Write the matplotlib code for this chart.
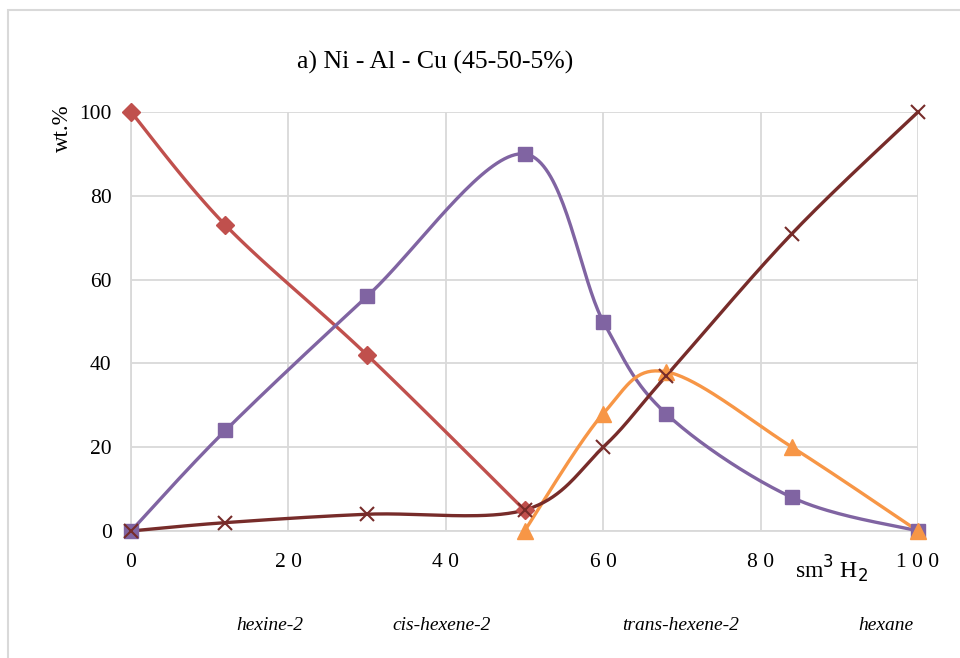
import matplotlib.pyplot as plt
import numpy as np
from matplotlib.patches import Rectangle

# data
x_hexine = [0, 12, 30, 50]
y_hexine = [100, 73, 42, 5]

x_cis = [0, 12, 30, 50, 60, 68, 84, 100]
y_cis = [0, 24, 56, 90, 50, 28, 8, 0]

x_trans = [50, 60, 68, 84, 100]
y_trans = [0, 28, 38, 20, 0]

x_hexane = [0, 12, 30, 50, 60, 68, 84, 100]
y_hexane = [0, 2, 4, 5, 20, 37, 71, 100]

labels = ['hexine-2', 'cis-hexene-2', 'trans-hexene-2', 'hexane']


def smooth(xs, ys, n=40):
    # excel-like smoothed line: bezier segments with catmull-rom control points
    p = np.column_stack([xs, ys]).astype(float)
    out = [p[0]]
    t = np.linspace(0, 1, n)[1:, None]
    for i in range(len(p) - 1):
        p0 = p[i - 1] if i > 0 else p[i]
        p1, p2 = p[i], p[i + 1]
        p3 = p[i + 2] if i + 2 < len(p) else p[i + 1]
        c1 = p1 + (p2 - p0) / 6
        c2 = p2 - (p3 - p1) / 6
        seg = ((1 - t) ** 3) * p1 + 3 * ((1 - t) ** 2) * t * c1 + 3 * (1 - t) * t ** 2 * c2 + t ** 3 * p2
        out.extend(seg)
    out = np.array(out)
    return out[:, 0], out[:, 1]


plt.rcParams['font.family'] = 'Liberation Serif'

fig = plt.figure(figsize=(9.6, 6.58), dpi=100)
ax = fig.add_axes([131 / 960, 1 - 531 / 658, (918 - 131) / 960, (531 - 112) / 658])

series = [
    (x_hexine, y_hexine, '#C0504D', 'D', 9),
    (x_cis, y_cis, '#8064A2', 's', 10),
    (x_trans, y_trans, '#F79646', '^', 11),
    (x_hexane, y_hexane, '#772C2A', 'x', 10),
]
for xs, ys, c, m, ms in series:
    sx, sy = smooth(xs, ys)
    ax.plot(sx, sy, color=c, lw=2.4, clip_on=False, zorder=3)
    ax.plot(xs, ys, ls='none', marker=m, color=c, ms=ms, mew=1.5 if m == 'x' else 1,
            clip_on=False, zorder=4)

ax.set_xlim(0, 100)
ax.set_ylim(0, 100)
ax.set_xticks([0, 20, 40, 60, 80, 100])
ax.set_xticklabels(['0', '2 0', '4 0', '6 0', '8 0', '1 0 0'])
ax.set_yticks([0, 20, 40, 60, 80, 100])
ax.grid(True, color='#D9D9D9', lw=1.3, zorder=0)
ax.set_axisbelow(True)
for s in ['top', 'right']:
    ax.spines[s].set_visible(False)
for s in ['left', 'bottom']:
    ax.spines[s].set_color('#D9D9D9')
    ax.spines[s].set_linewidth(1.3)
ax.tick_params(length=0, labelsize=15.5, pad=16)
ax.tick_params(axis='y', pad=14)

fig.text(435 / 960, 1 - 62 / 658, 'a) Ni - Al - Cu (45-50-5%)', ha='center', va='center', fontsize=18.5)
fig.text(62 / 960, 1 - 128 / 658, 'wt.%', rotation=90, ha='center', va='center', fontsize=16.5)
fig.text(832 / 960, 1 - 569 / 658, 'sm$^3$ H$_2$', ha='center', va='center', fontsize=17)

for lab, px in zip(labels, [270, 442, 681, 886]):
    fig.text(px / 960, 1 - 626 / 658, lab, ha='center', va='center', fontsize=14,
             style='italic')

fig.patches.append(Rectangle((8 / 960, -0.1), 1.2, 1 - 10 / 658 + 0.1, transform=fig.transFigure,
                             fill=False, ec='#D9D9D9', lw=1.5))

fig.savefig('out.png', dpi=100)
